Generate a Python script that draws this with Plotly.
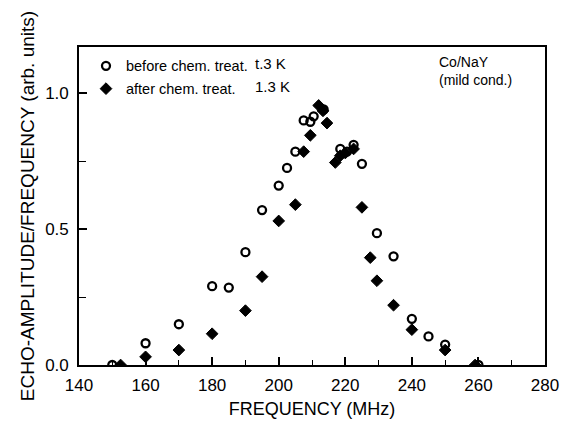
import plotly.graph_objects as go

# Data
before_freq = [150, 160, 170, 180, 185, 190, 195, 200, 202.5, 205, 207.5, 209.5, 210.5, 213.5,
               218.5, 220.5, 222.5, 225, 229.5, 234.5, 240, 245, 250, 260]
before_amp = [0.0, 0.08, 0.15, 0.29, 0.285, 0.415, 0.57, 0.66, 0.725, 0.785, 0.9, 0.895, 0.915, 0.94,
              0.795, 0.785, 0.81, 0.74, 0.485, 0.4, 0.17, 0.105, 0.075, 0.0]

after_freq = [152.5, 160, 170, 180, 190, 195, 200, 205, 207.5, 209.5, 212, 213.3, 214.5,
              217, 218.5, 220, 222.5, 225, 227.5, 229.5, 234.5, 240, 250, 259]
after_amp = [0.0, 0.03, 0.055, 0.115, 0.2, 0.325, 0.53, 0.59, 0.785, 0.845, 0.955, 0.935, 0.89,
             0.745, 0.77, 0.78, 0.795, 0.58, 0.395, 0.31, 0.22, 0.13, 0.055, 0.0]

series_names = ["before chem. treat.", "after chem. treat."]
series_temps = ["t.3 K", "1.3 K"]
x_ticks = [140, 160, 180, 200, 220, 240, 260, 280]
y_ticks = [0.0, 0.5, 1.0]
y_tick_labels = ["0.0", "0.5", "1.0"]
sample_label = ["Co/NaY", "(mild cond.)"]

FONT = "Liberation Sans, Arial, Helvetica, sans-serif"

fig = go.Figure()
fig.add_trace(go.Scatter(
    x=before_freq, y=before_amp, mode="markers", name=series_names[0],
    marker=dict(symbol="circle-open", size=8, color="black", line=dict(width=2.3, color="black")),
    legendgroup="a",
))
fig.add_trace(go.Scatter(
    x=after_freq, y=after_amp, mode="markers", name=series_names[1],
    marker=dict(symbol="diamond", size=9, color="black", line=dict(width=1, color="black")),
    legendgroup="b",
))

fig.update_layout(
    width=562, height=422,
    margin=dict(l=79, r=17, t=47, b=57, autoexpand=False),
    paper_bgcolor="white", plot_bgcolor="white",
    font=dict(family=FONT, color="black"),
    showlegend=True,
    legend=dict(
        x=0.015, y=0.991, xanchor="left", yanchor="top",
        bgcolor="rgba(0,0,0,0)", borderwidth=0,
        font=dict(size=14.5, family=FONT, color="black"),
        tracegroupgap=1,
    ),
    xaxis=dict(
        range=[140, 280], tickvals=x_ticks, automargin=False,
        ticks="inside", ticklen=8, tickwidth=1.5, tickcolor="black",
        minor=dict(dtick=10, ticks="inside", ticklen=5, tickwidth=1.2, tickcolor="black"),
        showline=True, linewidth=1.6, linecolor="black", mirror=True,
        showgrid=False, zeroline=False,
        tickfont=dict(size=17, family=FONT),
        ticklabelstandoff=4,
        title=dict(text="FREQUENCY (MHz)", font=dict(size=18, family=FONT), standoff=8),
    ),
    yaxis=dict(
        range=[0, 1.17], tickvals=y_ticks, ticktext=y_tick_labels, automargin=False,
        ticks="inside", ticklen=8, tickwidth=1.5, tickcolor="black",
        minor=dict(dtick=0.25, ticks="inside", ticklen=7, tickwidth=1.2, tickcolor="black"),
        showline=True, linewidth=1.6, linecolor="black", mirror=True,
        showgrid=False, zeroline=False,
        tickfont=dict(size=17, family=FONT),
        ticklabelstandoff=5,
        title=dict(text="ECHO-AMPLITUDE/FREQUENCY (arb. units)", font=dict(size=19, family=FONT), standoff=6),
    ),
)

# temperature column of the legend
for i, t in enumerate(series_temps):
    fig.add_annotation(
        x=0.374, y=0.947 - i * 0.072, xref="paper", yref="paper",
        text=t, showarrow=False, xanchor="left", yanchor="middle",
        font=dict(size=15, family=FONT, color="black"),
    )

# sample label (two lines)
fig.add_annotation(
    x=0.768, y=0.926, xref="paper", yref="paper",
    text="<br>".join(sample_label), showarrow=False, xanchor="left", yanchor="middle",
    align="left", font=dict(size=14, family=FONT, color="black"),
)

fig.write_html("out.html")
